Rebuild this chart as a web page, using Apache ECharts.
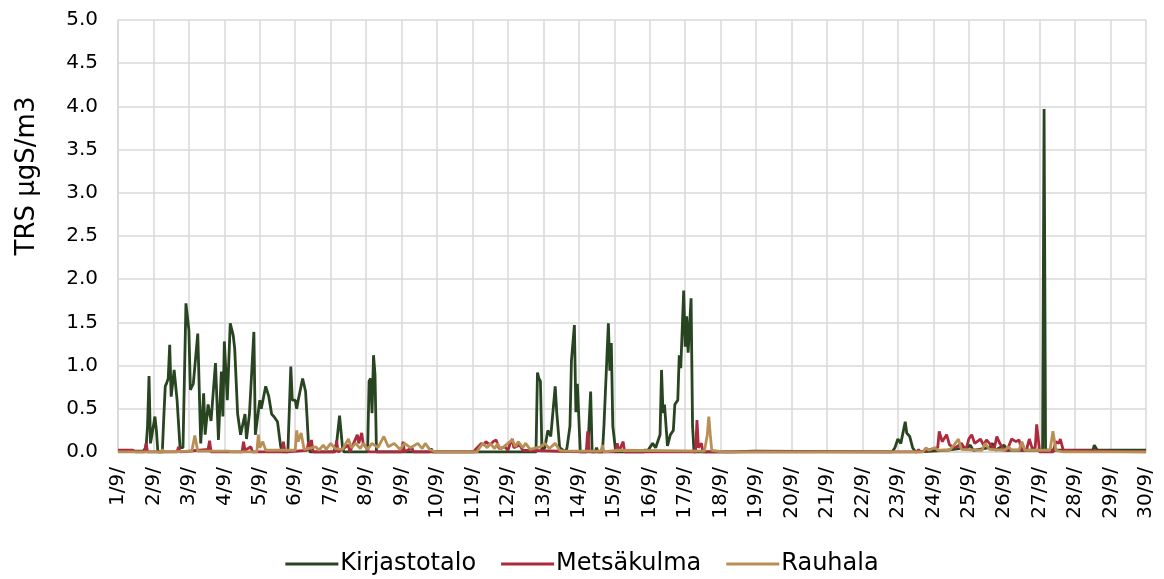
<!DOCTYPE html>
<html>
<head>
<meta charset="utf-8">
<script src="https://cdn.jsdelivr.net/npm/echarts@6/dist/echarts.min.js"></script>
<style>
html, body { margin: 0; padding: 0; background: #fff; }
#chart { width: 1164px; height: 579px; }
</style>
</head>
<body>
<div id="chart"></div>
<script>
// hours counted from 1/9 00:00, value in µgS/m3
var seriesNames = ['Kirjastotalo', 'Metsäkulma', 'Rauhala'];
var dayLabels = [];
for (var d = 1; d <= 30; d++) dayLabels.push(d + '/9/');

var kirjastotalo = [[0,0.01],[17,0.01],[19,0.05],[20,0.3],[21,0.88],[22,0.1],[23,0.2],[25,0.41],[26,0.25],[27,0],[30,0],[31,0.4],[32,0.76],[33,0.8],[34,0.85],[35,1.24],[36,0.64],[38,0.95],[40,0.6],[42,0.05],[44,0.05],[46,1.72],[48,1.41],[49,0.72],[51,0.79],[54,1.37],[56,0.1],[58,0.68],[59,0.2],[61,0.55],[63,0.36],[66,1.03],[68,0.14],[70,0.93],[71,0.41],[72,1.28],[74,0.6],[76,1.49],[77,1.42],[78,1.35],[79,1.2],[81,0.44],[83,0.2],[86,0.44],[87,0.15],[89,0.44],[92,1.39],[93,0.2],[96,0.6],[97,0.5],[100,0.76],[102,0.65],[104,0.44],[106,0.4],[108,0.35],[110,0.08],[111,0],[115,0],[117,0.99],[118,0.6],[120,0.6],[121,0.5],[122,0.6],[125,0.85],[127,0.7],[128,0.4],[129,0.08],[130,0],[146,0],[148,0.1],[150,0.42],[152,0.05],[153,0],[169,0],[170,0.82],[171,0.85],[172,0.45],[173,1.12],[174,0.9],[175,0],[211,0],[212,0.04],[213,0],[283,0],[284,0.92],[285,0.85],[286,0.82],[287,0.02],[289,0.05],[291,0.25],[293,0.18],[296,0.76],[297,0.47],[299,0.05],[303,0],[304,0.05],[306,0.3],[307,1.06],[309,1.47],[310,0.46],[311,0.79],[313,0],[318,0],[320,0.7],[321,0],[323,0],[324,0.05],[325,0],[328,0],[329,0.3],[332,1.49],[333,0.94],[334,1.26],[335,0.3],[337,0],[356,0],[357,0.03],[358,0],[362,0.1],[364,0.05],[367,0.2],[368,0.95],[369,0.45],[370,0.55],[372,0.07],[374,0.2],[376,0.25],[377,0.55],[379,0.6],[380,1.12],[381,0.97],[383,1.87],[384,1.22],[385,1.57],[386,1.15],[388,1.78],[389,0.3],[390,0],[414,0],[415,0.02],[416,0],[430,0.01],[524,0],[526,0.05],[528,0.15],[530,0.1],[533,0.35],[534,0.22],[536,0.18],[538,0.05],[540,0],[560,0.02],[575,0.05],[577,0.08],[579,0.02],[590,0.05],[592,0.1],[594,0.02],[600,0.08],[602,0.02],[626,0.02],[627,3.97],[628,0.02],[655,0.02],[660,0.02],[661,0.08],[663,0.02],[696,0.02]];

var metsakulma = [[0,0.02],[10,0.02],[12,0],[18,0],[19,0.1],[20,0],[40,0],[41,0.06],[42,0],[61,0.03],[62,0.13],[63,0],[84,0],[85,0.12],[86,0.02],[90,0.06],[91,0],[111,0],[112,0.12],[113,0],[128,0.02],[129,0.12],[130,0.03],[131,0.14],[132,0],[147,0],[148,0.13],[149,0],[156,0.08],[157,0],[162,0.2],[163,0.1],[165,0.22],[166,0.1],[168,0.05],[170,0],[192,0],[193,0.12],[194,0],[199,0.05],[200,0],[241,0],[242,0.03],[246,0.1],[248,0.08],[249,0.12],[252,0.08],[254,0.12],[256,0.14],[258,0.04],[262,0.06],[264,0.02],[266,0.12],[267,0.15],[268,0.05],[272,0.08],[274,0.02],[317,0],[318,0.24],[319,0],[337,0],[338,0.1],[339,0],[342,0.12],[343,0],[391,0],[392,0.37],[393,0.05],[395,0.1],[396,0],[541,0],[542,0.03],[543,0],[555,0.05],[556,0.24],[558,0.12],[559,0.12],[561,0.2],[563,0.08],[567,0.05],[571,0.1],[574,0.02],[576,0.15],[578,0.2],[580,0.1],[584,0.15],[586,0.08],[588,0.14],[591,0.08],[593,0.02],[595,0.18],[597,0.1],[600,0.02],[602,0.02],[605,0.15],[608,0.12],[610,0.14],[612,0.02],[615,0.02],[617,0.15],[619,0.04],[621,0.05],[622,0.32],[624,0],[633,0],[635,0.12],[637,0.1],[638,0.15],[640,0.02],[641,0],[696,0]];

var rauhala = [[0,0],[29,0],[30,0.03],[31,0],[50,0.01],[52,0.19],[54,0.01],[75,0.01],[76,0.02],[77,0],[94,0],[95,0.2],[96,0.05],[98,0.12],[100,0.02],[120,0.02],[121,0.25],[122,0.12],[124,0.22],[126,0.03],[134,0.06],[136,0.02],[139,0.08],[141,0.03],[144,0.1],[147,0.04],[152,0.03],[156,0.15],[158,0.05],[161,0.1],[164,0.04],[166,0.1],[169,0.03],[172,0.1],[176,0.05],[180,0.18],[183,0.06],[187,0.1],[191,0.03],[194,0.1],[198,0.05],[203,0.1],[206,0.04],[208,0.1],[211,0.03],[215,0],[243,0],[244,0.03],[247,0.1],[250,0.05],[252,0.1],[255,0.04],[257,0.1],[259,0.03],[264,0.1],[267,0.14],[269,0.06],[271,0.12],[274,0.05],[276,0.1],[279,0.03],[286,0.06],[289,0.1],[292,0.04],[296,0.1],[299,0.02],[303,0.01],[327,0.01],[328,0.08],[329,0],[337,0.02],[397,0.01],[399,0.2],[400,0.41],[401,0.2],[402,0.02],[410,0],[545,0],[547,0.05],[549,0.02],[553,0.05],[555,0.02],[563,0.02],[566,0.08],[569,0.15],[571,0.03],[585,0.02],[587,0.1],[590,0.03],[600,0.02],[603,0.06],[605,0.02],[610,0.02],[612,0.12],[614,0.02],[631,0.02],[633,0.24],[635,0.02],[640,0],[696,0]];

var colors = ['#284421', '#ac2a3c', '#b88f55'];
var fontName = 'DejaVu Sans';

function lineSeries(name, data, color) {
	return {
		name : name,
		type : 'line',
		data : data,
		showSymbol : false,
		symbol : 'none',
		lineStyle : { color : color, width : 2.8 },
		itemStyle : { color : color }
	};
}

var option = {
	animation : false,
	color : colors,
	textStyle : { fontFamily : fontName },
	grid : { left : 118, right : 18, top : 20, bottom : 127 },
	legend : {
		bottom : -2,
		left : 'center',
		icon : 'rect',
		itemWidth : 53,
		itemHeight : 3,
		itemGap : 25,
		textStyle : { fontSize : 24, color : '#000', fontFamily : fontName, padding : [0, 0, 0, -3] },
		data : seriesNames
	},
	xAxis : {
		type : 'value',
		min : 0,
		max : 696,
		interval : 24,
		axisLine : { show : true, lineStyle : { color : '#d9d9d9', width : 1.5 } },
		axisTick : { show : false },
		splitLine : { show : true, lineStyle : { color : '#d9d9d9', width : 1.5 } },
		axisLabel : {
			rotate : 90,
			margin : 15,
			fontSize : 20,
			color : '#000',
			formatter : function(v) { return dayLabels[Math.round(v / 24)]; }
		}
	},
	yAxis : {
		type : 'value',
		min : 0,
		max : 5,
		interval : 0.5,
		name : 'TRS µgS/m3',
		nameLocation : 'middle',
		nameGap : 78,
		nameTextStyle : { fontSize : 26, color : '#000', padding : [0, 0, 0, 120] },
		axisLine : { show : true, lineStyle : { color : '#d9d9d9', width : 1.5 } },
		axisTick : { show : false },
		splitLine : { show : true, lineStyle : { color : '#d9d9d9', width : 1.5 } },
		axisLabel : {
			fontSize : 20,
			color : '#000',
			margin : 20,
			formatter : function(v) { return v.toFixed(1); }
		}
	},
	series : [
		lineSeries(seriesNames[0], kirjastotalo, colors[0]),
		lineSeries(seriesNames[1], metsakulma, colors[1]),
		lineSeries(seriesNames[2], rauhala, colors[2])
	]
};

var myChart = echarts.init(document.getElementById('chart'));
myChart.setOption(option);
</script>
</body>
</html>
